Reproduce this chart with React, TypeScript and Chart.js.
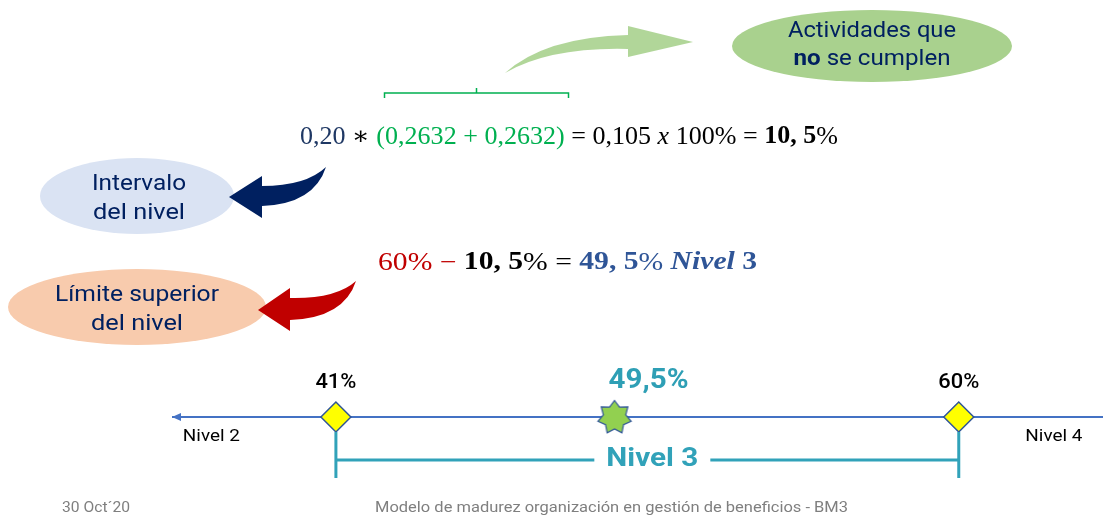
import React, { useEffect, useRef } from "react";
import { Chart, registerables } from "chart.js";

Chart.register(...registerables);

// ---- data ----
const axisMin = 36;
const axisMax = 64.4;
const boundValues = [41, 60];
const boundLabels = ["41%", "60%"];
const resultValue = 49.5;
const resultLabel = "49,5%";
const neighbourLevels = ["Nivel 2", "Nivel 4"];
const neighbourPositions = [37.2, 62.9];
const currentLevel = "Nivel 3";
const footerDate = "30 Oct´20";
const footerTitle = "Modelo de madurez organización en gestión de beneficios - BM3";

const SANS = "Roboto, 'DejaVu Sans', sans-serif";
const SERIF = "'Liberation Serif', 'DejaVu Serif', serif";

type Run = { t: string; font: string; color: string };

function runsWidth(ctx: CanvasRenderingContext2D, runs: Run[]) {
  let w = 0;
  for (const r of runs) {
    ctx.font = r.font;
    w += ctx.measureText(r.t).width;
  }
  return w;
}

function drawRuns(
  ctx: CanvasRenderingContext2D,
  runs: Run[],
  x: number,
  y: number,
  align: "left" | "center",
  fitWidth?: number
) {
  const w = runsWidth(ctx, runs);
  ctx.save();
  ctx.textBaseline = "middle";
  ctx.textAlign = "left";
  let sx = 1;
  if (fitWidth) sx = fitWidth / w;
  const start = align === "center" ? x - (w * sx) / 2 : x;
  ctx.translate(start, y);
  ctx.scale(sx, 1);
  let cx = 0;
  for (const r of runs) {
    ctx.font = r.font;
    ctx.fillStyle = r.color;
    ctx.fillText(r.t, cx, 0);
    cx += ctx.measureText(r.t).width;
  }
  ctx.restore();
}

function ellipse(ctx: CanvasRenderingContext2D, cx: number, cy: number, rx: number, ry: number, color: string) {
  ctx.save();
  ctx.beginPath();
  ctx.ellipse(cx, cy, rx, ry, 0, 0, Math.PI * 2);
  ctx.fillStyle = color;
  ctx.fill();
  ctx.restore();
}

function makeStar(): HTMLCanvasElement {
  const c = document.createElement("canvas");
  c.width = 40;
  c.height = 40;
  const g = c.getContext("2d")!;
  const n = 7;
  const ro = 17;
  const ri = 11.5;
  g.beginPath();
  for (let i = 0; i < n * 2; i++) {
    const a = -Math.PI / 2 + (i * Math.PI) / n;
    const r = i % 2 === 0 ? ro : ri;
    const px = 20 + r * Math.cos(a);
    const py = 20.5 + r * Math.sin(a);
    if (i === 0) g.moveTo(px, py);
    else g.lineTo(px, py);
  }
  g.closePath();
  g.fillStyle = "#92D050";
  g.fill();
  g.lineWidth = 1.2;
  g.strokeStyle = "#2F5597";
  g.stroke();
  return c;
}

const slidePlugin = {
  id: "slide",
  beforeDatasetsDraw(chart: any) {
    const ctx: CanvasRenderingContext2D = chart.ctx;
    const xs = chart.scales.x;
    const ys = chart.scales.y;
    const y0 = ys.getPixelForValue(0);
    const lx = xs.getPixelForValue(axisMin);
    ctx.save();
    ctx.fillStyle = "#4472C4";
    ctx.beginPath();
    ctx.moveTo(lx, y0);
    ctx.lineTo(lx + 9, y0 - 4);
    ctx.lineTo(lx + 9, y0 + 4);
    ctx.closePath();
    ctx.fill();
    ctx.restore();
  },
  afterDraw(chart: any) {
    const ctx: CanvasRenderingContext2D = chart.ctx;
    const xs = chart.scales.x;
    const ys = chart.scales.y;
    const y0 = ys.getPixelForValue(0);
    const T = "#002060";
    const sf = `22px ${SANS}`;

    // ---- top green callout ----
    ellipse(ctx, 872, 46, 140, 36, "#A9D18E");
    drawRuns(ctx, [{ t: "Actividades que", font: sf, color: T }], 872, 31, "center", 168);
    drawRuns(
      ctx,
      [
        { t: "no", font: `bold 22px ${SANS}`, color: T },
        { t: " se cumplen", font: sf, color: T },
      ],
      872,
      59,
      "center",
      157
    );
    // green arrow
    ctx.save();
    ctx.fillStyle = "rgba(169,209,142,0.9)";
    ctx.beginPath();
    ctx.moveTo(505, 73);
    ctx.quadraticCurveTo(545, 37, 628, 35);
    ctx.lineTo(628, 26);
    ctx.lineTo(693, 42);
    ctx.lineTo(628, 57);
    ctx.lineTo(628, 49);
    ctx.quadraticCurveTo(550, 47, 505, 73);
    ctx.fill();
    ctx.restore();

    // green bracket
    ctx.save();
    ctx.strokeStyle = "#00B050";
    ctx.lineWidth = 1.5;
    ctx.beginPath();
    ctx.moveTo(384.5, 98);
    ctx.lineTo(384.5, 93);
    ctx.lineTo(568.5, 93);
    ctx.lineTo(568.5, 98);
    ctx.moveTo(476.5, 93);
    ctx.lineTo(476.5, 88);
    ctx.stroke();
    ctx.restore();

    // formula 1
    const f = `25px ${SERIF}`;
    const fb = `bold 25px ${SERIF}`;
    drawRuns(
      ctx,
      [
        { t: "0,20", font: f, color: "#1F3864" },
        { t: " ∗ ", font: f, color: "#000000" },
        { t: "(0,2632 + 0,2632)", font: f, color: "#00B050" },
        { t: " = 0,105 ", font: f, color: "#000000" },
        { t: "x", font: `italic 25px ${SERIF}`, color: "#000000" },
        { t: " 100% = ", font: f, color: "#000000" },
        { t: "10, 5", font: fb, color: "#000000" },
        { t: "%", font: f, color: "#000000" },
      ],
      300,
      137,
      "left",
      538
    );

    // formula 2
    drawRuns(
      ctx,
      [
        { t: "60% − ", font: f, color: "#C00000" },
        { t: "10, 5", font: fb, color: "#000000" },
        { t: "% = ", font: f, color: "#000000" },
        { t: "49, 5", font: fb, color: "#2F5597" },
        { t: "% ", font: f, color: "#2F5597" },
        { t: "Nivel", font: `italic bold 25px ${SERIF}`, color: "#2F5597" },
        { t: " 3", font: fb, color: "#2F5597" },
      ],
      378,
      263,
      "left",
      379
    );

    // Intervalo callout
    ellipse(ctx, 137, 196, 97, 38, "#DAE3F3");
    drawRuns(ctx, [{ t: "Intervalo", font: sf, color: T }], 139, 184, "center", 94);
    drawRuns(ctx, [{ t: "del nivel", font: sf, color: T }], 139, 213, "center", 92);
    ctx.save();
    ctx.fillStyle = "#002060";
    ctx.beginPath();
    ctx.moveTo(326, 167);
    ctx.quadraticCurveTo(306, 186, 262, 186);
    ctx.lineTo(262, 176);
    ctx.lineTo(229, 197);
    ctx.lineTo(262, 218);
    ctx.lineTo(262, 206);
    ctx.quadraticCurveTo(314, 204, 326, 167);
    ctx.fill();
    ctx.restore();

    // Límite superior callout
    ellipse(ctx, 137, 307, 129, 38, "#F8CBAD");
    drawRuns(ctx, [{ t: "Límite superior", font: sf, color: T }], 137, 295, "center", 164);
    drawRuns(ctx, [{ t: "del nivel", font: sf, color: T }], 137, 324, "center", 92);
    ctx.save();
    ctx.fillStyle = "#C00000";
    ctx.beginPath();
    ctx.moveTo(356, 281);
    ctx.quadraticCurveTo(336, 299, 290, 298);
    ctx.lineTo(290, 288);
    ctx.lineTo(258, 310);
    ctx.lineTo(290, 331);
    ctx.lineTo(290, 320);
    ctx.quadraticCurveTo(344, 318, 356, 281);
    ctx.fill();
    ctx.restore();

    // ---- number line labels ----
    boundValues.forEach((v, i) => {
      drawRuns(ctx, [{ t: boundLabels[i], font: `500 21px ${SANS}`, color: "#000000" }], xs.getPixelForValue(v), y0 - 34, "center", 41);
    });
    drawRuns(ctx, [{ t: resultLabel, font: `bold 27px ${SANS}`, color: "#2E9FB5" }], xs.getPixelForValue(resultValue) + 34, y0 - 36, "center", 80);
    neighbourLevels.forEach((t, i) => {
      drawRuns(ctx, [{ t, font: `16px ${SANS}`, color: "#000000" }], xs.getPixelForValue(neighbourPositions[i]), y0 + 20, "center", 57);
    });

    // level bracket
    const bx1 = xs.getPixelForValue(boundValues[0]);
    const bx2 = xs.getPixelForValue(boundValues[1]);
    const by = y0 + 43;
    const tw = 92;
    const mid = (bx1 + bx2) / 2 + 5;
    ctx.save();
    ctx.strokeStyle = "#31A2B9";
    ctx.lineWidth = 3;
    ctx.beginPath();
    ctx.moveTo(bx1, y0 + 15);
    ctx.lineTo(bx1, y0 + 61);
    ctx.moveTo(bx2, y0 + 15);
    ctx.lineTo(bx2, y0 + 61);
    ctx.moveTo(bx1, by);
    ctx.lineTo(mid - tw / 2 - 12, by);
    ctx.moveTo(mid + tw / 2 + 12, by);
    ctx.lineTo(bx2, by);
    ctx.stroke();
    ctx.restore();
    drawRuns(ctx, [{ t: currentLevel, font: `bold 25px ${SANS}`, color: "#31A2B9" }], mid, by, "center", tw);

    // footer
    drawRuns(ctx, [{ t: footerDate, font: `14px ${SANS}`, color: "#7F7F7F" }], 62, 508, "left", 68);
    drawRuns(ctx, [{ t: footerTitle, font: `14px ${SANS}`, color: "#7F7F7F" }], 375, 508, "left", 473);
  },
};

export default function App() {
  const ref = useRef<HTMLCanvasElement | null>(null);
  useEffect(() => {
    const canvas = ref.current!;
    const star = makeStar();
    const chart = new Chart(canvas, {
      type: "scatter",
      data: {
        datasets: [
          {
            data: [
              { x: axisMin, y: 0 },
              { x: axisMax, y: 0 },
            ],
            showLine: true,
            borderColor: "#4472C4",
            borderWidth: 2,
            pointRadius: 0,
            order: 3,
          } as any,
          {
            data: boundValues.map((v) => ({ x: v, y: 0 })),
            pointStyle: "rectRot",
            pointRadius: 15,
            backgroundColor: "#FFFF00",
            borderColor: "#2F5597",
            borderWidth: 1.5,
            order: 1,
          } as any,
          {
            data: [{ x: resultValue, y: 0 }],
            pointStyle: star,
            pointRadius: 17,
            order: 0,
          } as any,
        ],
      },
      options: {
        responsive: false,
        animation: false,
        events: [],
        clip: false as any,
        layout: { autoPadding: false, padding: { left: 172, right: 0, top: 367, bottom: 50 } } as any,
        scales: {
          x: { type: "linear", min: axisMin, max: axisMax, display: false },
          y: { min: -1, max: 1, display: false },
        },
        plugins: { legend: { display: false }, tooltip: { enabled: false } },
      },
      plugins: [slidePlugin],
    });
    return () => chart.destroy();
  }, []);
  return (
    <div style={{ position: "absolute", left: 0, top: 0, width: 1103, height: 517, background: "#fff" }}>
      <canvas ref={ref} width={1103} height={517} style={{ display: "block" }} />
    </div>
  );
}
